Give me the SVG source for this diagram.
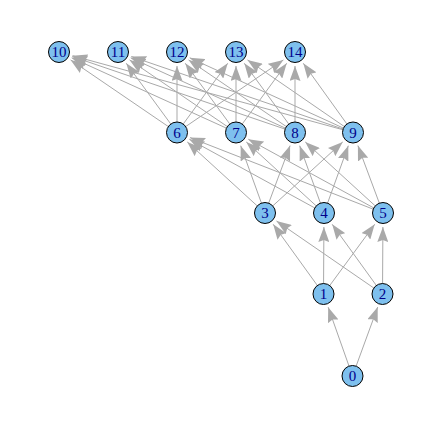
<svg xmlns="http://www.w3.org/2000/svg" width="428" height="444" viewBox="0 0 428 444">
<style>
.e{stroke:#A9A9A9;stroke-width:1;fill:none;marker-end:url(#ah)}
.n circle{fill:#7EC0EE;stroke:#000;stroke-width:1}
.n text{font-family:"Liberation Serif","Times New Roman",serif;font-size:15px;fill:#00008B;text-anchor:middle}
</style>
<defs>
<marker id="ah" markerUnits="userSpaceOnUse" markerWidth="15" markerHeight="11" viewBox="0 -5.5 15 11" refX="15" refY="0" orient="auto">
<path d="M0,-5.5 L15,0 L0,5.5 L2,0 z" fill="#A9A9A9"/>
</marker>
</defs>
<rect width="428" height="444" fill="#fff"/>
<g id="edges">
<line class="e" x1="352.5" y1="376" x2="328.2" y2="307.2"/>
<line class="e" x1="352.5" y1="376" x2="377.7" y2="307.1"/>
<line class="e" x1="323.5" y1="294" x2="273.2" y2="224.3"/>
<line class="e" x1="323.5" y1="294" x2="323.9" y2="227"/>
<line class="e" x1="323.5" y1="294" x2="374.7" y2="224.3"/>
<line class="e" x1="382.5" y1="294" x2="276.5" y2="221"/>
<line class="e" x1="382.5" y1="294" x2="332.2" y2="224.3"/>
<line class="e" x1="382.5" y1="294" x2="382.9" y2="227"/>
<line class="e" x1="265" y1="213" x2="187.3" y2="142"/>
<line class="e" x1="265" y1="213" x2="240.7" y2="145.7"/>
<line class="e" x1="265" y1="213" x2="290.1" y2="145.6"/>
<line class="e" x1="265" y1="213" x2="342.7" y2="142"/>
<line class="e" x1="324" y1="213" x2="189.3" y2="139.2"/>
<line class="e" x1="324" y1="213" x2="246.3" y2="142"/>
<line class="e" x1="324" y1="213" x2="299.7" y2="145.7"/>
<line class="e" x1="324" y1="213" x2="348.3" y2="145.7"/>
<line class="e" x1="383" y1="213" x2="190" y2="137.6"/>
<line class="e" x1="383" y1="213" x2="248.3" y2="139.2"/>
<line class="e" x1="383" y1="213" x2="305.3" y2="142"/>
<line class="e" x1="383" y1="213" x2="357.9" y2="145.6"/>
<line class="e" x1="177" y1="132.5" x2="70.6" y2="59.9"/>
<line class="e" x1="177" y1="132.5" x2="126.3" y2="63.3"/>
<line class="e" x1="177" y1="132.5" x2="177" y2="66"/>
<line class="e" x1="177" y1="132.5" x2="227.7" y2="63.3"/>
<line class="e" x1="177" y1="132.5" x2="283.4" y2="59.9"/>
<line class="e" x1="236" y1="132.5" x2="71.7" y2="57.8"/>
<line class="e" x1="236" y1="132.5" x2="129.6" y2="59.9"/>
<line class="e" x1="236" y1="132.5" x2="185.3" y2="63.3"/>
<line class="e" x1="236" y1="132.5" x2="236" y2="66"/>
<line class="e" x1="236" y1="132.5" x2="286.7" y2="63.3"/>
<line class="e" x1="295" y1="132.5" x2="72.3" y2="56.5"/>
<line class="e" x1="295" y1="132.5" x2="130.7" y2="57.8"/>
<line class="e" x1="295" y1="132.5" x2="188.6" y2="59.9"/>
<line class="e" x1="295" y1="132.5" x2="244.3" y2="63.3"/>
<line class="e" x1="295" y1="132.5" x2="295" y2="66"/>
<line class="e" x1="353" y1="132.5" x2="72.5" y2="55.7"/>
<line class="e" x1="353" y1="132.5" x2="131.3" y2="56.5"/>
<line class="e" x1="353" y1="132.5" x2="189.7" y2="57.8"/>
<line class="e" x1="353" y1="132.5" x2="247.5" y2="59.9"/>
<line class="e" x1="353" y1="132.5" x2="303.3" y2="63.3"/>
</g>
<g id="n0" class="n"><circle cx="352.5" cy="376" r="10.5"/><text x="352.5" y="381">0</text></g>
<g id="n1" class="n"><circle cx="323.5" cy="294" r="10.5"/><text x="323.5" y="299">1</text></g>
<g id="n2" class="n"><circle cx="382.5" cy="294" r="10.5"/><text x="382.5" y="299">2</text></g>
<g id="n3" class="n"><circle cx="265" cy="213" r="10.5"/><text x="265" y="218">3</text></g>
<g id="n4" class="n"><circle cx="324" cy="213" r="10.5"/><text x="324" y="218">4</text></g>
<g id="n5" class="n"><circle cx="383" cy="213" r="10.5"/><text x="383" y="218">5</text></g>
<g id="n6" class="n"><circle cx="177" cy="132.5" r="10.5"/><text x="177" y="137.5">6</text></g>
<g id="n7" class="n"><circle cx="236" cy="132.5" r="10.5"/><text x="236" y="137.5">7</text></g>
<g id="n8" class="n"><circle cx="295" cy="132.5" r="10.5"/><text x="295" y="137.5">8</text></g>
<g id="n9" class="n"><circle cx="353" cy="132.5" r="10.5"/><text x="353" y="137.5">9</text></g>
<g id="n10" class="n"><circle cx="59" cy="52" r="10.5"/><text x="59" y="57">10</text></g>
<g id="n11" class="n"><circle cx="118" cy="52" r="10.5"/><text x="118" y="57">11</text></g>
<g id="n12" class="n"><circle cx="177" cy="52" r="10.5"/><text x="177" y="57">12</text></g>
<g id="n13" class="n"><circle cx="236" cy="52" r="10.5"/><text x="236" y="57">13</text></g>
<g id="n14" class="n"><circle cx="295" cy="52" r="10.5"/><text x="295" y="57">14</text></g>
</svg>
